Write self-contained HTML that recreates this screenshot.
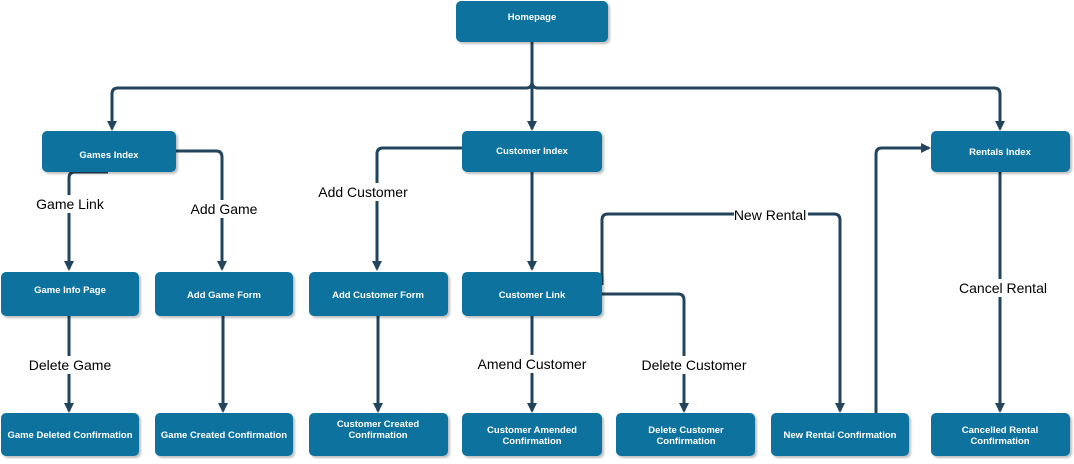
<!DOCTYPE html>
<html><head><meta charset="utf-8"><style>
body{margin:0;background:#fff;width:1074px;height:459px;overflow:hidden;font-family:"Liberation Sans",sans-serif}
</style></head><body>
<svg width="1074" height="459" xmlns="http://www.w3.org/2000/svg" font-family="Liberation Sans, sans-serif">
<defs>
<marker id="a" markerWidth="10" markerHeight="10" refX="8" refY="5" orient="auto" markerUnits="userSpaceOnUse">
<path d="M0,0 L10,5 L0,10 Z" fill="#23445d"/></marker>
<filter id="s"><feDropShadow dx="2" dy="2" stdDeviation="1" flood-color="#000" flood-opacity="0.25"/></filter>
</defs>
<g fill="none" stroke="#23445d" stroke-width="3" stroke-linejoin="round">
<path d="M532,42 V82 Q532,88 526,88 H118 Q112,88 112,94 V129" marker-end="url(#a)"/>
<path d="M532,42 V129" marker-end="url(#a)"/>
<path d="M532,82 Q532,88 538,88 H994 Q1000,88 1000,94 V129" marker-end="url(#a)"/>
<path d="M108,172 H75 Q69,172 69,178 V269" marker-end="url(#a)"/>
<path d="M176,151 H216 Q222,151 222,157 V269" marker-end="url(#a)"/>
<path d="M462,148 H383 Q377,148 377,154 V269" marker-end="url(#a)"/>
<path d="M532,172 V269" marker-end="url(#a)"/>
<path d="M602,285 V220 Q602,214 608,214 H834 Q840,214 840,220 V411" marker-end="url(#a)"/>
<path d="M602,294 H678 Q684,294 684,300 V411" marker-end="url(#a)"/>
<path d="M532,316 V411" marker-end="url(#a)"/>
<path d="M69,316 V411" marker-end="url(#a)"/>
<path d="M223,316 V411" marker-end="url(#a)"/>
<path d="M378,316 V411" marker-end="url(#a)"/>
<path d="M876,413 V154 Q876,148 882,148 H929" marker-end="url(#a)"/>
<path d="M1000,172 V411" marker-end="url(#a)"/>
</g>
<g font-size="14" fill="#000" text-anchor="middle">
<rect x="36" y="195" width="70" height="18" fill="#fff"/><text x="70" y="209">Game Link</text>
<rect x="190" y="200" width="68" height="18" fill="#fff"/><text x="224" y="214">Add Game</text>
<rect x="316" y="183" width="94" height="18" fill="#fff"/><text x="363" y="197">Add Customer</text>
<rect x="734" y="206" width="74" height="18" fill="#fff"/><text x="770" y="220">New Rental</text>
<rect x="640" y="356" width="108" height="18" fill="#fff"/><text x="694" y="370">Delete Customer</text>
<rect x="476" y="355" width="112" height="18" fill="#fff"/><text x="532" y="369">Amend Customer</text>
<rect x="28" y="356" width="84" height="18" fill="#fff"/><text x="70" y="370">Delete Game</text>
<rect x="958" y="279" width="90" height="18" fill="#fff"/><text x="1003" y="293">Cancel Rental</text>
</g>
<g fill="#10739e" filter="url(#s)">
<rect x="456" y="1" width="152" height="41" rx="5"/>
<rect x="42" y="131" width="134" height="41" rx="5"/>
<rect x="462" y="131" width="140" height="41" rx="5"/>
<rect x="931" y="131" width="139" height="41" rx="5"/>
<rect x="1" y="272" width="138" height="44" rx="5"/>
<rect x="155" y="272" width="138" height="44" rx="5"/>
<rect x="309" y="272" width="139" height="44" rx="5"/>
<rect x="462" y="272" width="140" height="44" rx="5"/>
<rect x="1" y="413" width="138" height="43" rx="5"/>
<rect x="155" y="413" width="138" height="43" rx="5"/>
<rect x="309" y="413" width="139" height="43" rx="5"/>
<rect x="462" y="413" width="140" height="43" rx="5"/>
<rect x="616" y="413" width="139" height="43" rx="5"/>
<rect x="771" y="413" width="138" height="43" rx="5"/>
<rect x="931" y="413" width="139" height="43" rx="5"/>
</g>
<g font-size="9.5" font-weight="bold" fill="#fff" text-anchor="middle">
<text x="532" y="20">Homepage</text>
<text x="109" y="158">Games Index</text>
<text x="532" y="154">Customer Index</text>
<text x="1000" y="155">Rentals Index</text>
<text x="70" y="293">Game Info Page</text>
<text x="224" y="298">Add Game Form</text>
<text x="378" y="298">Add Customer Form</text>
<text x="532" y="298">Customer Link</text>
<text x="70" y="438">Game Deleted Confirmation</text>
<text x="224" y="438">Game Created Confirmation</text>
<text x="378" y="427">Customer Created</text><text x="378" y="438">Confirmation</text>
<text x="532" y="433">Customer Amended</text><text x="532" y="444">Confirmation</text>
<text x="686" y="433">Delete Customer</text><text x="686" y="444">Confirmation</text>
<text x="840" y="438">New Rental Confirmation</text>
<text x="1000" y="433">Cancelled Rental</text><text x="1000" y="444">Confirmation</text>
</g>
</svg>
</body></html>
